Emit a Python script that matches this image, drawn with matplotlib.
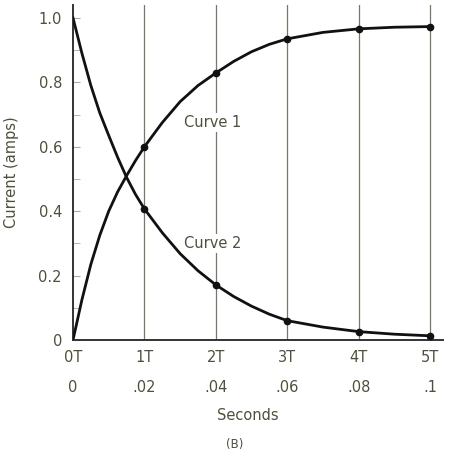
import matplotlib
matplotlib.use("Agg")
import matplotlib.pyplot as plt
import numpy as np

# Data (time in units of T)
t_trace = [0, 0.125, 0.25, 0.375, 0.5, 0.625, 0.75, 0.875, 1, 1.25, 1.5, 1.75, 2, 2.25, 2.5, 2.75, 3, 3.5, 4, 4.5, 5]
curve1_trace = [0, 0.125, 0.235, 0.325, 0.40, 0.46, 0.51, 0.557, 0.60, 0.675, 0.74, 0.79, 0.829, 0.865, 0.895, 0.918, 0.935, 0.955, 0.966, 0.971, 0.973]
curve2_trace = [1.0, 0.89, 0.79, 0.705, 0.635, 0.567, 0.505, 0.452, 0.407, 0.333, 0.268, 0.215, 0.171, 0.135, 0.105, 0.08, 0.060, 0.040, 0.026, 0.018, 0.013]

t_points = [1, 2, 3, 4, 5]
curve1_points = [0.60, 0.829, 0.935, 0.966, 0.973]
curve2_points = [0.407, 0.171, 0.060, 0.026, 0.013]

t_labels = ["0T", "1T", "2T", "3T", "4T", "5T"]
sec_labels = ["0", ".02", ".04", ".06", ".08", ".1"]
y_ticks = [0, 0.2, 0.4, 0.6, 0.8, 1.0]
y_labels = ["0", "0.2", "0.4", "0.6", "0.8", "1.0"]

TXT = "#4f4f3c"
LINE = "#111111"

fig = plt.figure(figsize=(4.5, 4.55), dpi=100)
ax = fig.add_axes([73/450, 1-340/455, (443-73)/450, (340-5)/455])
ax.set_xlim(0, 5.18)
ax.set_ylim(0, 1.04)

for s in ["top", "right"]:
    ax.spines[s].set_visible(False)
for s in ["left", "bottom"]:
    ax.spines[s].set_color("#333333")
    ax.spines[s].set_linewidth(1.4)

# vertical grid lines at each T
for t in t_points:
    ax.axvline(t, color="#77776a", lw=0.9, zorder=1)

ax.plot(t_trace, curve1_trace, color=LINE, lw=2.0, zorder=3, solid_joinstyle="round")
ax.plot(t_trace, curve2_trace, color=LINE, lw=2.0, zorder=3, solid_joinstyle="round")
ax.plot(t_points, curve1_points, "o", color=LINE, ms=4.5, zorder=4)
ax.plot(t_points, curve2_points, "o", color=LINE, ms=4.5, zorder=4)

ax.set_yticks(y_ticks)
ax.set_yticklabels(y_labels, color=TXT, fontsize=10.5)
ax.set_yticks(np.arange(0.1, 1.0, 0.2), minor=True)
ax.tick_params(axis="y", which="both", direction="in", length=5, color="#aaaaaa", pad=8)
ax.set_xticks([])

ax.set_ylabel("Current (amps)", color=TXT, fontsize=10.5, labelpad=14)

for i, (tl, sl) in enumerate(zip(t_labels, sec_labels)):
    ax.annotate(tl, xy=(i, 0), xycoords=("data", "axes fraction"),
                xytext=(0, -12.5), textcoords="offset points",
                ha="center", va="center", color=TXT, fontsize=10.5)
    ax.annotate(sl, xy=(i, 0), xycoords=("data", "axes fraction"),
                xytext=(0, -34.5), textcoords="offset points",
                ha="center", va="center", color=TXT, fontsize=10.5)

ax.annotate("Seconds", xy=(2.45, 0), xycoords=("data", "axes fraction"),
            xytext=(0, -54), textcoords="offset points",
            ha="center", va="center", color=TXT, fontsize=10.5)
ax.annotate("(B)", xy=(2.27, 0), xycoords=("data", "axes fraction"),
            xytext=(0, -75), textcoords="offset points",
            ha="center", va="center", color=TXT, fontsize=8.5)

bbox = dict(facecolor="white", edgecolor="none", pad=1.5)
ax.text(1.95, 0.675, "Curve 1", ha="center", va="center", color=TXT,
        fontsize=10.5, bbox=bbox, zorder=2)
ax.text(1.96, 0.30, "Curve 2", ha="center", va="center", color=TXT,
        fontsize=10.5, bbox=bbox, zorder=2)

fig.savefig("out.png", dpi=100, facecolor="white")
